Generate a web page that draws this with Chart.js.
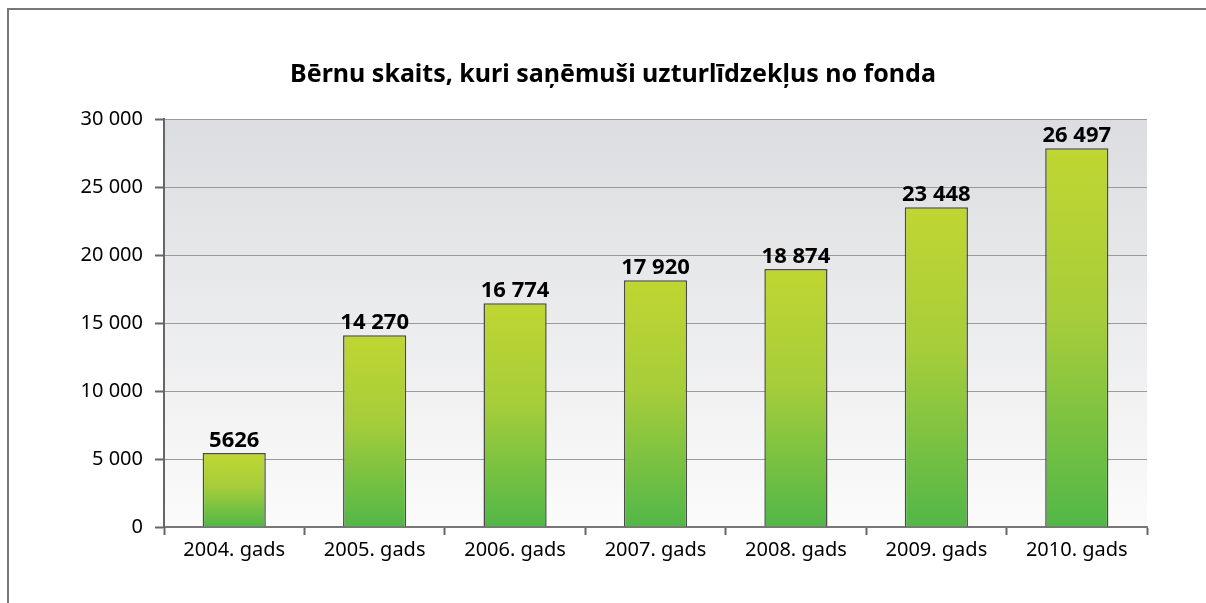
<!DOCTYPE html>
<html>
<head>
<meta charset="utf-8">
<script src="https://cdn.jsdelivr.net/npm/chart.js@4"></script>
<style>
  html, body { margin: 0; padding: 0; background: #fff; }
  #wrap { width: 1206px; height: 603px; }
</style>
</head>
<body>
<div id="wrap"><canvas id="chart" width="1206" height="603"></canvas></div>
<script>
// dati
const years = ['2004. gads', '2005. gads', '2006. gads', '2007. gads', '2008. gads', '2009. gads', '2010. gads'];
// bar heights as drawn in the picture
const barHeights = [5440, 14100, 16450, 18150, 18970, 23520, 27850];
// value labels printed above the bars
const valueLabels = ['5626', '14 270', '16 774', '17 920', '18 874', '23 448', '26 497'];
const yTicks = [0, 5000, 10000, 15000, 20000, 25000, 30000];
const chartTitle = 'Bērnu skaits, kuri saņēmuši uzturlīdzekļus no fonda';

const FONT = '"Noto Sans", "Open Sans", sans-serif';

function fmt(v) {
    return String(v).replace(/\B(?=(\d{3})+(?!\d))/g, ' ');
}

// fona gradients zem grafika + rāmis + virsraksts
const bgPlugin = {
    id: 'bg',
    beforeDraw(chart) {
        const { ctx, chartArea: a } = chart;
        ctx.save();
        ctx.strokeStyle = '#777';
        ctx.lineWidth = 2;
        ctx.beginPath();
        ctx.moveTo(8, 603);
        ctx.lineTo(8, 9);
        ctx.lineTo(1206, 9);
        ctx.stroke();
        const g = ctx.createLinearGradient(0, a.top, 0, a.bottom);
        g.addColorStop(0, '#dcdde0');
        g.addColorStop(1, '#fbfbfb');
        ctx.fillStyle = g;
        ctx.fillRect(a.left, a.top, a.right - a.left, a.bottom - a.top);

        ctx.font = 'bold 25px ' + FONT;
        ctx.fillStyle = '#000';
        ctx.textAlign = 'center';
        ctx.textBaseline = 'middle';
        ctx.fillText(chartTitle, 613, 75);
        ctx.restore();
    }
};

// vērtības virs stabiņiem
const labelPlugin = {
    id: 'valueLabels',
    afterDatasetsDraw(chart) {
        const { ctx } = chart;
        const meta = chart.getDatasetMeta(0);
        ctx.save();
        ctx.font = 'bold 22px ' + FONT;
        ctx.fillStyle = '#000';
        ctx.textAlign = 'center';
        ctx.textBaseline = 'alphabetic';
        meta.data.forEach((bar, i) => {
            ctx.fillText(valueLabels[i], bar.x, bar.y - 6);
        });
        ctx.restore();
    }
};

function barGradient(context) {
    const chart = context.chart;
    if (!chart.chartArea || context.dataIndex === undefined) return '#9ccb3b';
    const y = chart.scales.y;
    const top = y.getPixelForValue(barHeights[context.dataIndex]);
    const bottom = y.getPixelForValue(0);
    const g = chart.ctx.createLinearGradient(0, top, 0, bottom);
    g.addColorStop(0, '#c0d631');
    g.addColorStop(0.45, '#a6cd3a');
    g.addColorStop(1, '#52b748');
    return g;
}

new Chart(document.getElementById('chart').getContext('2d'), {
    type: 'bar',
    data: {
        labels: years,
        datasets: [{
            data: barHeights,
            backgroundColor: barGradient,
            borderColor: '#4a4a4a',
            borderWidth: 1.5,
            borderSkipped: 'bottom',
            barPercentage: 0.45,
            categoryPercentage: 1
        }]
    },
    options: {
        responsive: false,
        animation: false,
        layout: { padding: { left: 0, right: 59, top: 119, bottom: 0 } },
        plugins: {
            legend: { display: false },
            tooltip: { enabled: false },
            title: { display: false }
        },
        scales: {
            x: {
                grid: {
                    offset: true,
                    drawOnChartArea: false,
                    tickLength: 8,
                    tickColor: (c) => c.index === years.length ? 'rgba(0,0,0,0)' : '#666',
                    tickWidth: 2
                },
                border: { color: '#777', width: 2 },
                ticks: {
                    color: '#000',
                    font: { family: FONT, size: 20 },
                    padding: 3
                },
                afterFit(scale) { scale.height = 76; }
            },
            y: {
                min: 0,
                max: 30000,
                afterBuildTicks(scale) {
                    scale.ticks = yTicks.map(v => ({ value: v }));
                },
                grid: {
                    color: '#9a9a9a',
                    lineWidth: 1,
                    tickLength: 9,
                    tickColor: '#666',
                    tickWidth: 2
                },
                border: { color: '#666', width: 2 },
                ticks: {
                    color: '#000',
                    font: { family: FONT, size: 20 },
                    padding: 12,
                    callback: (v) => fmt(v)
                },
                afterFit(scale) { scale.width = 164; }
            }
        }
    },
    plugins: [bgPlugin, labelPlugin]
});
</script>
</body>
</html>
